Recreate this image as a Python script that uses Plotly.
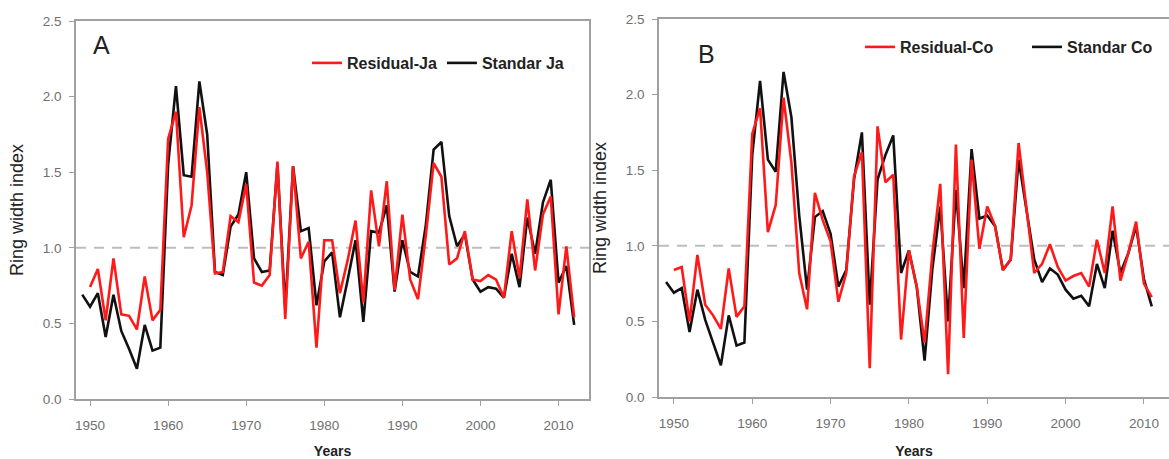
import plotly.graph_objects as go

# ---- data ----
years_std_ja = list(range(1949, 2013))
std_ja = [0.69, 0.61, 0.70, 0.41, 0.69, 0.45, 0.33, 0.20, 0.49, 0.32,
          0.34, 1.55, 2.07, 1.48, 1.47, 2.10, 1.75, 0.84, 0.82, 1.14,
          1.22, 1.50, 0.93, 0.84, 0.85, 1.55, 0.60, 1.54, 1.11, 1.13,
          0.62, 0.91, 0.97, 0.54, 0.79, 1.05, 0.51, 1.11, 1.10, 1.28,
          0.71, 1.05, 0.84, 0.81, 1.15, 1.65, 1.70, 1.21, 1.01, 1.09,
          0.79, 0.71, 0.74, 0.73, 0.67, 0.96, 0.74, 1.20, 0.96, 1.30,
          1.45, 0.77, 0.88, 0.49]
years_res_ja = list(range(1950, 2013))
res_ja = [0.74, 0.86, 0.52, 0.93, 0.56, 0.55, 0.46, 0.81, 0.52, 0.59,
          1.72, 1.90, 1.07, 1.28, 1.93, 1.50, 0.83, 0.84, 1.21, 1.17,
          1.42, 0.77, 0.75, 0.82, 1.57, 0.53, 1.54, 0.93, 1.04, 0.34,
          1.05, 1.05, 0.70, 0.92, 1.18, 0.64, 1.38, 1.01, 1.44, 0.72,
          1.22, 0.79, 0.66, 1.08, 1.56, 1.47, 0.89, 0.93, 1.11, 0.79,
          0.78, 0.82, 0.79, 0.67, 1.11, 0.80, 1.32, 0.85, 1.22, 1.34,
          0.56, 1.01, 0.54]
years_std_co = list(range(1949, 2012))
std_co = [0.76, 0.69, 0.72, 0.43, 0.71, 0.51, 0.36, 0.21, 0.54, 0.34,
          0.36, 1.60, 2.09, 1.57, 1.49, 2.15, 1.85, 1.20, 0.71, 1.19,
          1.23, 1.08, 0.73, 0.84, 1.44, 1.75, 0.61, 1.44, 1.60, 1.73,
          0.82, 0.97, 0.73, 0.24, 0.85, 1.26, 0.50, 1.37, 0.72, 1.64,
          1.18, 1.20, 1.13, 0.84, 0.91, 1.57, 1.24, 0.91, 0.76, 0.85,
          0.81, 0.71, 0.65, 0.67, 0.60, 0.88, 0.72, 1.10, 0.82, 0.95,
          1.13, 0.78, 0.60]
years_res_co = list(range(1950, 2012))
res_co = [0.84, 0.86, 0.50, 0.94, 0.61, 0.54, 0.45, 0.85, 0.53, 0.60,
          1.74, 1.91, 1.09, 1.27, 1.98, 1.55, 0.82, 0.58, 1.35, 1.17,
          1.03, 0.63, 0.82, 1.46, 1.62, 0.19, 1.79, 1.42, 1.47, 0.38,
          0.97, 0.73, 0.36, 0.95, 1.41, 0.15, 1.67, 0.39, 1.57, 0.98,
          1.26, 1.13, 0.84, 0.91, 1.68, 1.24, 0.82, 0.88, 1.01, 0.86,
          0.77, 0.80, 0.82, 0.73, 1.04, 0.82, 1.26, 0.77, 0.95, 1.16,
          0.75, 0.66]

x_ticks = [1950, 1960, 1970, 1980, 1990, 2000, 2010]
y_ticks = [0.0, 0.5, 1.0, 1.5, 2.0, 2.5]
y_tick_text = ["0.0", "0.5", "1.0", "1.5", "2.0", "2.5"]

RED = "#ff1a1a"
BLACK = "#111111"
W, H = 1169, 459
FONT = "Liberation Sans, Arial"

fig = go.Figure()
fig.add_trace(go.Scatter(x=years_std_ja, y=std_ja, mode="lines", name="<b>Standar Ja</b>",
                         line=dict(color=BLACK, width=2.6), xaxis="x", yaxis="y",
                         legend="legend", legendrank=2))
fig.add_trace(go.Scatter(x=years_res_ja, y=res_ja, mode="lines", name="<b>Residual-Ja</b>",
                         line=dict(color=RED, width=2.6), xaxis="x", yaxis="y",
                         legend="legend", legendrank=1))
fig.add_trace(go.Scatter(x=years_std_co, y=std_co, mode="lines", name="<b>Standar Co</b>",
                         line=dict(color=BLACK, width=2.6), xaxis="x2", yaxis="y2",
                         legend="legend2", legendrank=2))
fig.add_trace(go.Scatter(x=years_res_co, y=res_co, mode="lines", name="<b>Residual-Co</b>",
                         line=dict(color=RED, width=2.6), xaxis="x2", yaxis="y2",
                         legend="legend2", legendrank=1))

for xr, yr in (("x", "y"), ("x2", "y2")):
    fig.add_shape(type="line", xref=f"{xr} domain", yref=yr, x0=0, x1=1, y0=1.0, y1=1.0,
                  line=dict(color="#bdbdbd", width=2, dash="10px,8px"), layer="below")

axis_common = dict(showline=True, linecolor="#a0a0a0", linewidth=1.5, mirror=True,
                   ticks="outside", ticklen=5, tickcolor="#a0a0a0", showgrid=False,
                   zeroline=False, automargin=False,
                   tickfont=dict(family=FONT, size=13.5, color="#707070"))
x_title_font = dict(family=FONT, size=14, color="#222222")
y_title_font = dict(family=FONT, size=18, color="#222222")

fig.update_layout(
    width=W, height=H, margin=dict(l=0, r=0, t=0, b=0, autoexpand=False),
    paper_bgcolor="white", plot_bgcolor="white",
    font=dict(family=FONT),
    xaxis=dict(domain=[76 / W, 589 / W], range=[1948.2, 2013.9], tickvals=x_ticks,
               anchor="y", ticklabelstandoff=8,
               title=dict(text="<b>Years</b>", font=x_title_font, standoff=20),
               **axis_common),
    yaxis=dict(domain=[1 - 399 / H, 1 - 21 / H], range=[0, 2.5], tickvals=y_ticks,
               ticktext=y_tick_text, anchor="x", ticklabelstandoff=5,
               title=dict(text="Ring width index", font=y_title_font, standoff=14),
               **axis_common),
    xaxis2=dict(domain=[659 / W, 1.0], range=[1948.1, 2013.2], tickvals=x_ticks,
                anchor="y2", ticklabelstandoff=8,
                title=dict(text="<b>Years</b>", font=x_title_font, standoff=20),
                **axis_common),
    yaxis2=dict(domain=[1 - 397 / H, 1 - 19 / H], range=[0, 2.5], tickvals=y_ticks,
                ticktext=y_tick_text, anchor="x2", ticklabelstandoff=5,
                title=dict(text="Ring width index", font=y_title_font, standoff=14),
                **axis_common),
    legend=dict(orientation="h", x=307 / W, y=1 - 63 / H, xanchor="left", yanchor="middle",
                bgcolor="rgba(0,0,0,0)",
                font=dict(size=16, color="#222222", family=FONT), itemwidth=30),
    legend2=dict(orientation="h", x=860 / W, y=1 - 47 / H, xanchor="left", yanchor="middle",
                 bgcolor="rgba(0,0,0,0)",
                 font=dict(size=16, color="#222222", family=FONT), itemwidth=30,
                 entrywidth=122),
    showlegend=True,
    annotations=[
        dict(text="A", xref="paper", yref="paper", x=91 / W, y=1 - 45 / H, xanchor="left",
             yanchor="middle", showarrow=False, font=dict(family=FONT, size=25, color="#222222")),
        dict(text="B", xref="paper", yref="paper", x=696 / W, y=1 - 54 / H, xanchor="left",
             yanchor="middle", showarrow=False, font=dict(family=FONT, size=25, color="#222222")),
    ],
)

fig.write_html("out.html")
